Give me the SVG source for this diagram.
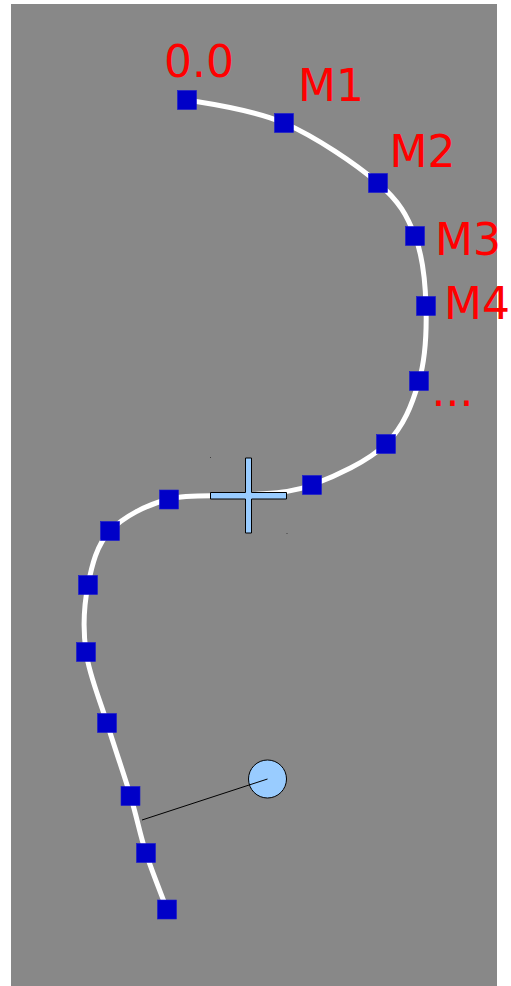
<svg xmlns="http://www.w3.org/2000/svg" width="511" height="986" viewBox="0 0 511 986">
<style>
.bg{fill:#888888}
.curve{fill:none;stroke:#ffffff;stroke-width:5}
.link{fill:none;stroke:#000000;stroke-width:1}
.sq{fill:#0000c8;stroke:#1a1ad0;stroke-width:0.6}
.lbl{fill:#ff0000;font-family:"DejaVu Sans","Liberation Sans",sans-serif;font-size:44px}
.lb{fill:#99ccff;stroke:#000000;stroke-width:1}
.speck{fill:#404040}
</style>
<rect class="bg" x="11" y="4" width="486" height="982"/>
<g id="handle">
<circle class="lb" cx="267.5" cy="779" r="19"/>
</g>
<g id="connectors">
<path class="curve" d="M187,100 C205,103 252.2,109.2 284,123 C315.8,136.8 356.2,164.2 378,183 C399.8,201.8 407,215.5 415,236 C423,256.5 425.3,281.8 426,306 C426.7,330.2 425.7,358 419,381 C412.3,404 403.8,426.7 386,444 C368.2,461.3 335,476.5 312,485 C289,493.5 271.8,492.7 248,495 C224.2,497.3 192,493 169,499 C146,505 123.5,516.7 110,531 C96.5,545.3 92,564.8 88,585 C84,605.2 82.8,629 86,652 C89.2,675 99.6,699 107,723 C114.4,747 124,774.3 130.5,796 C137,817.7 139.9,834.1 146,853 C152.1,871.9 163.5,899.7 167,909.5"/>
<line class="link" x1="267.5" y1="779" x2="142" y2="820"/>
</g>
<g id="cross">
<polygon class="lb" points="245.5,458 251.5,458 251.5,492.5 286.5,492.5 286.5,499 251.5,499 251.5,533 245.5,533 245.5,499 210.5,499 210.5,492.5 245.5,492.5"/>
<rect class="speck" x="210" y="457" width="1" height="1"/>
<rect class="speck" x="286.5" y="533" width="1" height="1"/>
</g>
<g id="p0"><rect class="sq" x="177.5" y="90.5" width="19" height="19"/><text class="lbl" x="164" y="77">0.0</text></g>
<g id="m1"><rect class="sq" x="274.5" y="113.5" width="19" height="19"/><text class="lbl" x="298" y="101">M1</text></g>
<g id="m2"><rect class="sq" x="368.5" y="173.5" width="19" height="19"/><text class="lbl" x="389.5" y="166.5">M2</text></g>
<g id="m3"><rect class="sq" x="405.5" y="226.5" width="19" height="19"/><text class="lbl" x="435" y="255">M3</text></g>
<g id="m4"><rect class="sq" x="416.5" y="296.5" width="19" height="19"/><text class="lbl" x="444" y="318.5">M4</text></g>
<g id="m5"><rect class="sq" x="409.5" y="371.5" width="19" height="19"/><text class="lbl" x="431.5" y="406">...</text></g>
<g id="m6"><rect class="sq" x="376.5" y="434.5" width="19" height="19"/></g>
<g id="m7"><rect class="sq" x="302.5" y="475.5" width="19" height="19"/></g>
<g id="m8"><rect class="sq" x="159.5" y="490" width="19" height="19"/></g>
<g id="m9"><rect class="sq" x="100.5" y="521.5" width="19" height="19"/></g>
<g id="m10"><rect class="sq" x="78.5" y="575.5" width="19" height="19"/></g>
<g id="m11"><rect class="sq" x="76.5" y="642.5" width="19" height="19"/></g>
<g id="m12"><rect class="sq" x="97.5" y="713.5" width="19" height="19"/></g>
<g id="m13"><rect class="sq" x="121" y="786.5" width="19" height="19"/></g>
<g id="m14"><rect class="sq" x="136.5" y="843.5" width="19" height="19"/></g>
<g id="m15"><rect class="sq" x="157.5" y="900" width="19" height="19"/></g>
</svg>
